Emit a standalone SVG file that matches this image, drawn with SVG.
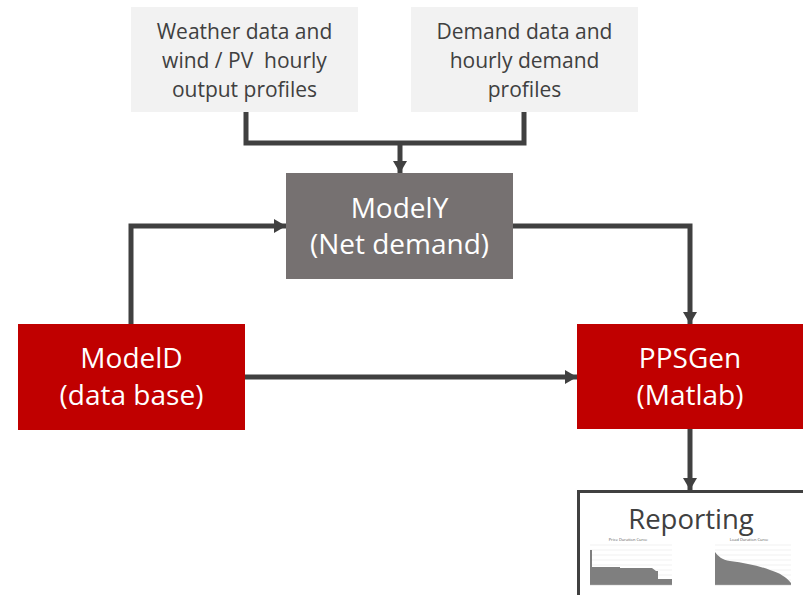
<svg xmlns="http://www.w3.org/2000/svg" width="803" height="595" viewBox="0 0 803 595">
  <style>
    .src { fill: #f2f2f2; }
    .srct { font-family: "Open Sans", "Liberation Sans", sans-serif; font-size: 21px; fill: #404040; text-anchor: middle; }
    .main { font-family: "Open Sans", "Liberation Sans", sans-serif; font-size: 28px; fill: #ffffff; text-anchor: middle; }
    .red { fill: #c00000; }
    .gray { fill: #767171; }
    .conn { fill: none; stroke: #404040; stroke-width: 5; }
    .tiny { font-family: "Open Sans", "Liberation Sans", sans-serif; font-size: 4px; fill: #595959; text-anchor: middle; }
    .grid { stroke: #e0e0e0; stroke-width: 0.5; }
    .area { fill: #7f7f7f; }
  </style>
  <defs>
    <marker id="arr" markerUnits="userSpaceOnUse" markerWidth="14" markerHeight="14" refX="12" refY="7" orient="auto">
      <path d="M0,0 L12,7 L0,14 z" fill="#404040"/>
    </marker>
  </defs>
  <rect width="803" height="595" fill="#ffffff"/>

  <g id="connectors">
    <path class="conn" d="M246,112 V143 H524 V112"/>
    <path class="conn" d="M400,143 V173" marker-end="url(#arr)"/>
    <path class="conn" d="M131,324 V226 H286" marker-end="url(#arr)"/>
    <path class="conn" d="M513,226 H690 V324" marker-end="url(#arr)"/>
    <path class="conn" d="M245,377 H577" marker-end="url(#arr)"/>
    <path class="conn" d="M690,429 V490" marker-end="url(#arr)"/>
  </g>

  <g id="weather">
    <rect class="src" x="131" y="7" width="227" height="105"/>
    <text class="srct" x="244.5" y="39">Weather data and</text>
    <text class="srct" x="244.5" y="68" xml:space="preserve">wind / PV  hourly</text>
    <text class="srct" x="244.5" y="97">output profiles</text>
  </g>

  <g id="demand">
    <rect class="src" x="411" y="7" width="227" height="105"/>
    <text class="srct" x="524.5" y="39">Demand data and</text>
    <text class="srct" x="524.5" y="68">hourly demand</text>
    <text class="srct" x="524.5" y="97">profiles</text>
  </g>

  <g id="modelY">
    <rect class="gray" x="286" y="173" width="227" height="106"/>
    <text class="main" x="399.5" y="218">ModelY</text>
    <text class="main" x="399.5" y="254">(Net demand)</text>
  </g>

  <g id="modelD">
    <rect class="red" x="18" y="324" width="227" height="106"/>
    <text class="main" x="131.5" y="368">ModelD</text>
    <text class="main" x="131.5" y="405">(data base)</text>
  </g>

  <g id="ppsgen">
    <rect class="red" x="577" y="324" width="226" height="105"/>
    <text class="main" x="690" y="368">PPSGen</text>
    <text class="main" x="690" y="405">(Matlab)</text>
  </g>

  <g id="reporting">
    <rect x="578.5" y="491.5" width="240" height="120" fill="#ffffff" stroke="#404040" stroke-width="3"/>
    <text x="691" y="529" font-family="'Open Sans', 'Liberation Sans', sans-serif" font-size="27.5" fill="#404040" text-anchor="middle">Reporting</text>
    <!-- Price Duration Curve -->
    <text class="tiny" x="628" y="541">Price Duration Curve</text>
    <g>
      <line class="grid" x1="590" y1="545" x2="672" y2="545"/>
      <line class="grid" x1="590" y1="550" x2="672" y2="550"/>
      <line class="grid" x1="590" y1="555" x2="672" y2="555"/>
      <line class="grid" x1="590" y1="560" x2="672" y2="560"/>
      <line class="grid" x1="590" y1="565" x2="672" y2="565"/>
      <line class="grid" x1="590" y1="570" x2="672" y2="570"/>
      <line class="grid" x1="590" y1="575" x2="672" y2="575"/>
      <line class="grid" x1="590" y1="580" x2="672" y2="580"/>
      <path class="area" d="M590,585 V550 H592 V567 H620 V568 H652 L656,571 H658 V579 H672 V585 z"/>
      <line x1="590" y1="585" x2="672" y2="585" stroke="#bfbfbf" stroke-width="0.5"/>
    </g>
    <!-- Load Duration Curve -->
    <text class="tiny" x="749" y="541">Load Duration Curve</text>
    <g>
      <line class="grid" x1="715" y1="545" x2="791" y2="545"/>
      <line class="grid" x1="715" y1="550" x2="791" y2="550"/>
      <line class="grid" x1="715" y1="555" x2="791" y2="555"/>
      <line class="grid" x1="715" y1="560" x2="791" y2="560"/>
      <line class="grid" x1="715" y1="565" x2="791" y2="565"/>
      <line class="grid" x1="715" y1="570" x2="791" y2="570"/>
      <line class="grid" x1="715" y1="575" x2="791" y2="575"/>
      <line class="grid" x1="715" y1="580" x2="791" y2="580"/>
      <path class="area" d="M715,585 V552 C718,556 722,560 730,561 C745,563 760,566 770,570 C780,573 786,577 791,583 V585 z"/>
      <line x1="715" y1="585" x2="791" y2="585" stroke="#bfbfbf" stroke-width="0.5"/>
    </g>
  </g>
</svg>
